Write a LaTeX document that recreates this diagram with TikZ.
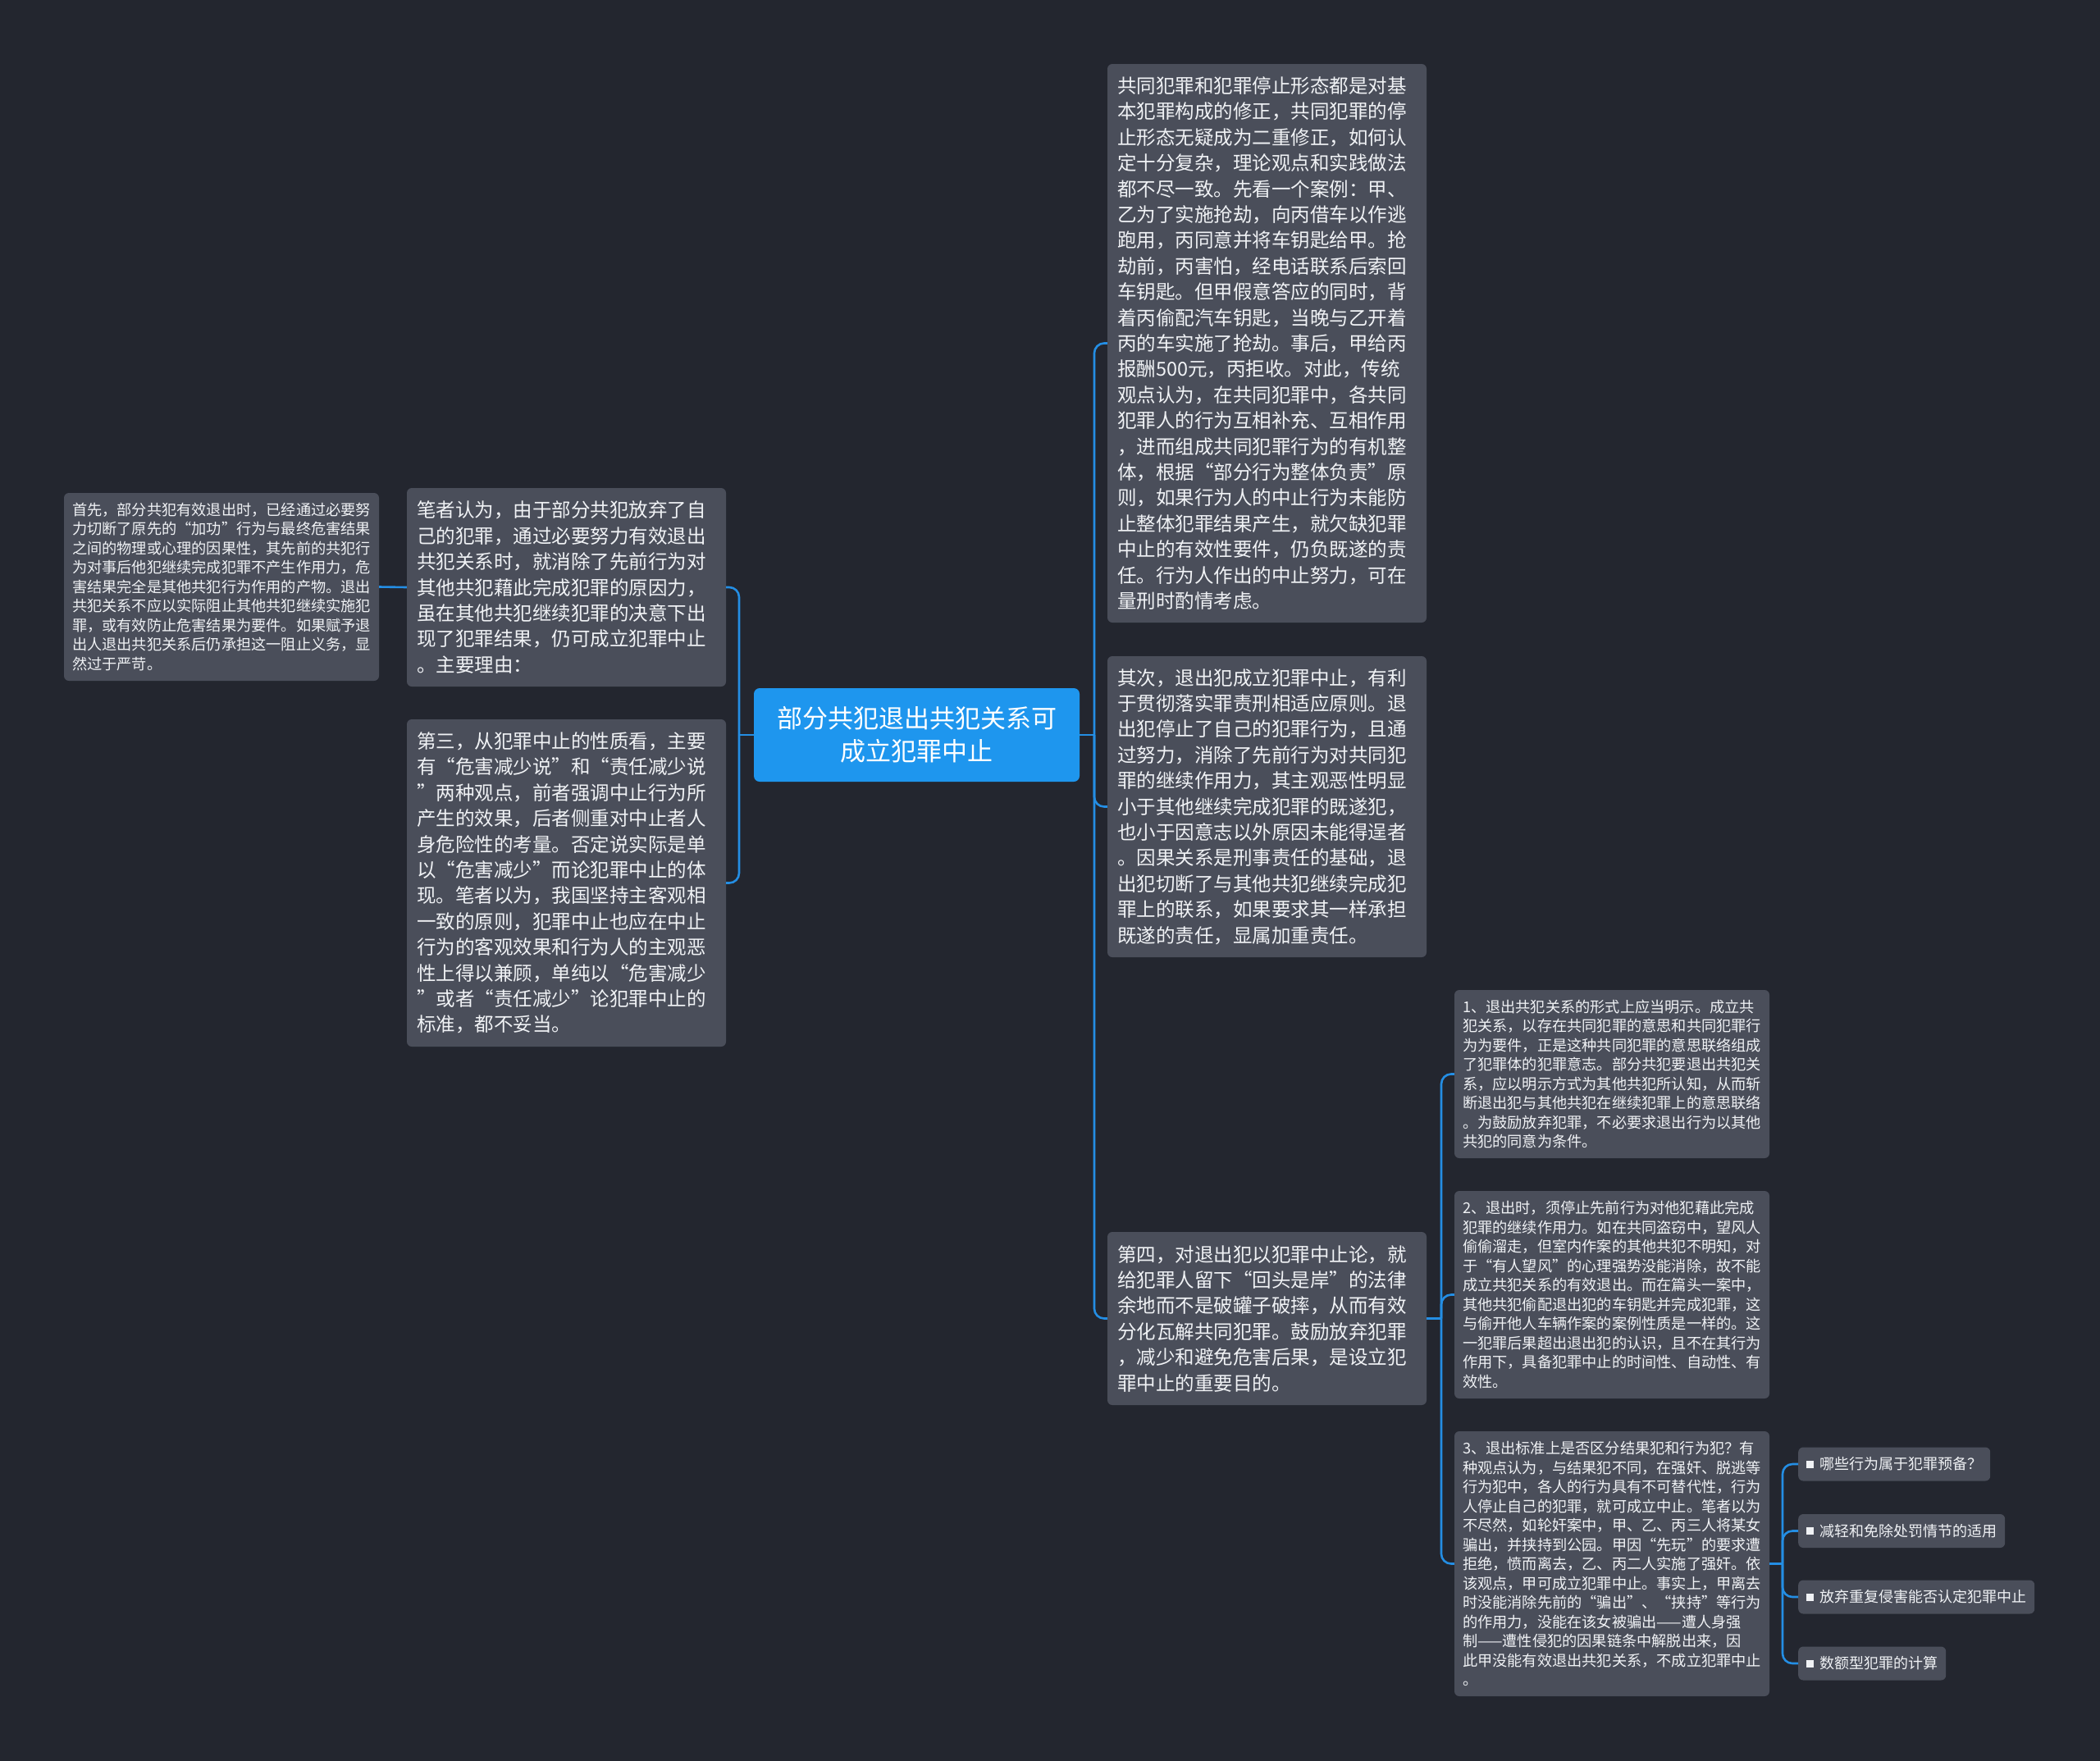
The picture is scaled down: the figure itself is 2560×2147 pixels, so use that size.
\documentclass[tikz,border=0pt]{standalone}
\usepackage{fontspec}
\setmainfont{Noto Sans CJK SC}
\usetikzlibrary{positioning}
\definecolor{mapbg}{RGB}{35,38,47}
\definecolor{mapnode}{RGB}{74,78,90}
\definecolor{maptopic}{RGB}{30,150,238}
\definecolor{maplink}{RGB}{36,142,228}
\definecolor{maptext}{RGB}{240,242,245}
\newcommand{\bul}{\rule[2pt]{9pt}{9pt}\hspace{7pt}}

\begin{document}
\begin{tikzpicture}[x=1pt,y=-1pt,
    topic/.style={fill=maptopic, rounded corners=7pt, text=white, align=center,
          minimum width=397pt, minimum height=114pt, font=\fontsize{31}{40}\selectfont},
    para/.style={fill=mapnode, rounded corners=6pt, text=maptext, align=left,
          text width=365pt, inner xsep=12pt, font=\fontsize{23.5}{31.4}\selectfont},
    note/.style={fill=mapnode, rounded corners=6pt, text=maptext, align=left,
          text width=364pt, inner xsep=10pt, font=\fontsize{18.2}{23.5}\selectfont},
    leaf/.style={fill=mapnode, rounded corners=6pt, text=maptext, anchor=west,
          inner xsep=10pt, minimum height=41pt, font=\fontsize{18}{22}\selectfont},
    link/.style={draw=maplink, line width=2.6pt, rounded corners=12pt}]
    \fill[mapbg] (0,0) rectangle (2560,2147);

    \node[topic] (topic) at (1117.5,896) {部分共犯退出共犯关系可\\成立犯罪中止};

    % left side
    \node[para, minimum height=242pt] (reason) at (690.5,716)
         {笔者认为，由于部分共犯放弃了自\\己的犯罪，通过必要努力有效退出\\共犯关系时，就消除了先前行为对\\
          其他共犯藉此完成犯罪的原因力，\\虽在其他共犯继续犯罪的决意下出\\现了犯罪结果，仍可成立犯罪中止\\。主要理由：};
    \node[note, minimum height=229pt] (effect) at (270,715.5)
         {首先，部分共犯有效退出时，已经通过必要努\\力切断了原先的“加功”行为与最终危害结果\\之间的物理或心理的因果性，其先前的共犯行\\
          为对事后他犯继续完成犯罪不产生作用力，危\\害结果完全是其他共犯行为作用的产物。退出\\共犯关系不应以实际阻止其他共犯继续实施犯\\
          罪，或有效防止危害结果为要件。如果赋予退\\出人退出共犯关系后仍承担这一阻止义务，显\\然过于严苛。};
    \node[para, minimum height=399pt] (nature) at (690.5,1076.5)
         {第三，从犯罪中止的性质看，主要\\有“危害减少说”和“责任减少说\\”两种观点，前者强调中止行为所\\
          产生的效果，后者侧重对中止者人\\身危险性的考量。否定说实际是单\\以“危害减少”而论犯罪中止的体\\
          现。笔者以为，我国坚持主客观相\\一致的原则，犯罪中止也应在中止\\行为的客观效果和行为人的主观恶\\
          性上得以兼顾，单纯以“危害减少\\”或者“责任减少”论犯罪中止的\\标准，都不妥当。};

    % right side
    \node[para, minimum height=681pt] (theory) at (1544.5,418.5)
         {共同犯罪和犯罪停止形态都是对基\\本犯罪构成的修正，共同犯罪的停\\止形态无疑成为二重修正，如何认\\
          定十分复杂，理论观点和实践做法\\都不尽一致。先看一个案例：甲、\\乙为了实施抢劫，向丙借车以作逃\\
          跑用，丙同意并将车钥匙给甲。抢\\劫前，丙害怕，经电话联系后索回\\车钥匙。但甲假意答应的同时，背\\
          着丙偷配汽车钥匙，当晚与乙开着\\丙的车实施了抢劫。事后，甲给丙\\报酬500元，丙拒收。对此，传统\\
          观点认为，在共同犯罪中，各共同\\犯罪人的行为互相补充、互相作用\\，进而组成共同犯罪行为的有机整\\
          体，根据“部分行为整体负责”原\\则，如果行为人的中止行为未能防\\止整体犯罪结果产生，就欠缺犯罪\\
          中止的有效性要件，仍负既遂的责\\任。行为人作出的中止努力，可在\\量刑时酌情考虑。};
    \node[para, minimum height=367pt] (secondly) at (1544.5,983.5)
         {其次，退出犯成立犯罪中止，有利\\于贯彻落实罪责刑相适应原则。退\\出犯停止了自己的犯罪行为，且通\\
          过努力，消除了先前行为对共同犯\\罪的继续作用力，其主观恶性明显\\小于其他继续完成犯罪的既遂犯，\\
          也小于因意志以外原因未能得逞者\\。因果关系是刑事责任的基础，退\\出犯切断了与其他共犯继续完成犯\\
          罪上的联系，如果要求其一样承担\\既遂的责任，显属加重责任。};
    \node[para, minimum height=211pt] (fourthly) at (1544.5,1607.5)
         {第四，对退出犯以犯罪中止论，就\\给犯罪人留下“回头是岸”的法律\\余地而不是破罐子破摔，从而有效\\
          分化瓦解共同犯罪。鼓励放弃犯罪\\，减少和避免危害后果，是设立犯\\罪中止的重要目的。};

    \node[note, minimum height=205pt] (form) at (1965,1309.5)
         {1、退出共犯关系的形式上应当明示。成立共\\犯关系，以存在共同犯罪的意思和共同犯罪行\\为为要件，正是这种共同犯罪的意思联络组成\\
          了犯罪体的犯罪意志。部分共犯要退出共犯关\\系，应以明示方式为其他共犯所认知，从而斩\\断退出犯与其他共犯在继续犯罪上的意思联络\\
          。为鼓励放弃犯罪，不必要求退出行为以其他\\共犯的同意为条件。};
    \node[note, minimum height=253pt] (stop) at (1965,1578.5)
         {2、退出时，须停止先前行为对他犯藉此完成\\犯罪的继续作用力。如在共同盗窃中，望风人\\偷偷溜走，但室内作案的其他共犯不明知，对\\
          于“有人望风”的心理强势没能消除，故不能\\成立共犯关系的有效退出。而在篇头一案中，\\其他共犯偷配退出犯的车钥匙并完成犯罪，这\\
          与偷开他人车辆作案的案例性质是一样的。这\\一犯罪后果超出退出犯的认识，且不在其行为\\作用下，具备犯罪中止的时间性、自动性、有\\效性。};
    \node[note, minimum height=323pt] (standard) at (1965,1906.5)
         {3、退出标准上是否区分结果犯和行为犯？有\\种观点认为，与结果犯不同，在强奸、脱逃等\\行为犯中，各人的行为具有不可替代性，行为\\
          人停止自己的犯罪，就可成立中止。笔者以为\\不尽然，如轮奸案中，甲、乙、丙三人将某女\\骗出，并挟持到公园。甲因“先玩”的要求遭\\
          拒绝，愤而离去，乙、丙二人实施了强奸。依\\该观点，甲可成立犯罪中止。事实上，甲离去\\时没能消除先前的“骗出”、“挟持”等行为\\
          的作用力，没能在该女被骗出——遭人身强\\制——遭性侵犯的因果链条中解脱出来，因\\此甲没能有效退出共犯关系，不成立犯罪中止\\。};

    \node[leaf] (prep) at (2192,1785) {\bul 哪些行为属于犯罪预备？};
    \node[leaf] (mitig) at (2192,1866.5) {\bul 减轻和免除处罚情节的适用};
    \node[leaf] (repeatq) at (2192,1947) {\bul 放弃重复侵害能否认定犯罪中止};
    \node[leaf] (amount) at (2192,2028) {\bul 数额型犯罪的计算};

    % connectors
    \coordinate (jl) at (901,896);
    \coordinate (jr) at (1334,896);
    \coordinate (jf) at (1757,1607.5);
    \coordinate (jb) at (2173,1906.5);
    \draw[link] (topic.west) -- (jl);
    \foreach \n in {reason,nature} \draw[link] (jl) |- (\n.east);
    \draw[link] (reason.west) -- (effect.east);
    \draw[link] (topic.east) -- (jr);
    \foreach \n in {theory,secondly,fourthly} \draw[link] (jr) |- (\n.west);
    \draw[link] (fourthly.east) -- (jf);
    \foreach \n in {form,stop,standard} \draw[link] (jf) |- (\n.west);
    \draw[link] (standard.east) -- (jb);
    \foreach \n in {prep,mitig,repeatq,amount} \draw[link] (jb) |- (\n.west);
\end{tikzpicture}
\end{document}
